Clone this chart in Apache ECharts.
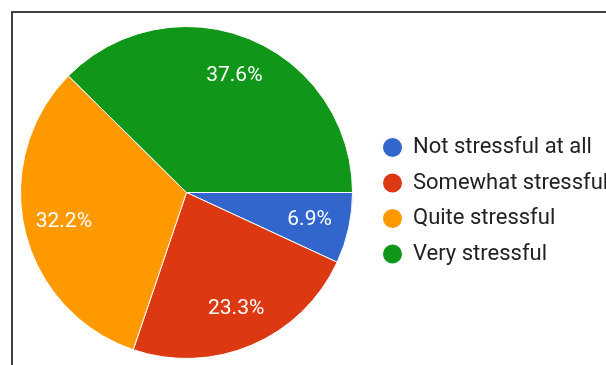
<!DOCTYPE html>
<html>
<head>
<meta charset="utf-8">
<script src="https://cdn.jsdelivr.net/npm/echarts@6/dist/echarts.min.js"></script>
<style>
  html, body { margin: 0; padding: 0; background: #fff; }
  #frame {
    position: absolute; left: 11px; top: 11px; width: 700px; height: 500px;
    border-left: 2px solid #404040; border-top: 2px solid #404040;
  }
  #chart { position: absolute; left: 0; top: 0; width: 606px; height: 365px; }
</style>
</head>
<body>
<div id="frame"></div>
<div id="chart"></div>
<script>
// answers, in the order Google Charts drew them (clockwise from 3 o'clock)
let categories = ['Not stressful at all', 'Somewhat stressful', 'Quite stressful', 'Very stressful'];
let shares = [6.9, 23.3, 32.2, 37.6];
let colors = ['#3366cc', '#dc3912', '#ff9900', '#109618'];

let pieData = categories.map((name, i) => ({
    name: name,
    value: shares[i],
    itemStyle: { color: colors[i] }
}));

let pieCenter = [186.5, 192.5];

let option = {
    animation: false,
    legend: {
        orient: 'vertical',
        left: 376,
        top: 131,
        padding: 5,
        icon: 'circle',
        itemWidth: 21,
        itemHeight: 21,
        itemGap: 12.5,
        selectedMode: false,
        data: categories,
        textStyle: {
            fontFamily: 'Roboto',
            fontSize: 22,
            lineHeight: 22,
            color: '#222',
            padding: [0, 0, 0, 5]
        }
    },
    series: [
        {
            // the slices
            type: 'pie',
            center: pieCenter,
            radius: [0, 166],
            startAngle: 0,
            clockwise: true,
            percentPrecision: 1,
            itemStyle: { borderColor: '#fff', borderWidth: 1 },
            label: { show: false },
            labelLine: { show: false },
            emphasis: { disabled: true },
            data: pieData
        },
        {
            // invisible ring, only used to put the % labels further out like google does
            type: 'pie',
            center: pieCenter,
            radius: [80, 166],
            startAngle: 0,
            clockwise: true,
            silent: true,
            percentPrecision: 1,
            itemStyle: { color: 'rgba(0,0,0,0)', borderWidth: 0 },
            label: {
                show: true,
                position: 'inside',
                formatter: '{d}%',
                color: '#fff',
                fontFamily: 'Roboto',
                fontSize: 21
            },
            labelLine: { show: false },
            emphasis: { disabled: true },
            data: categories.map((name, i) => ({ name: name, value: shares[i] }))
        }
    ]
};

let chart = echarts.init(document.getElementById('chart'));
chart.setOption(option);
</script>
</body>
</html>
